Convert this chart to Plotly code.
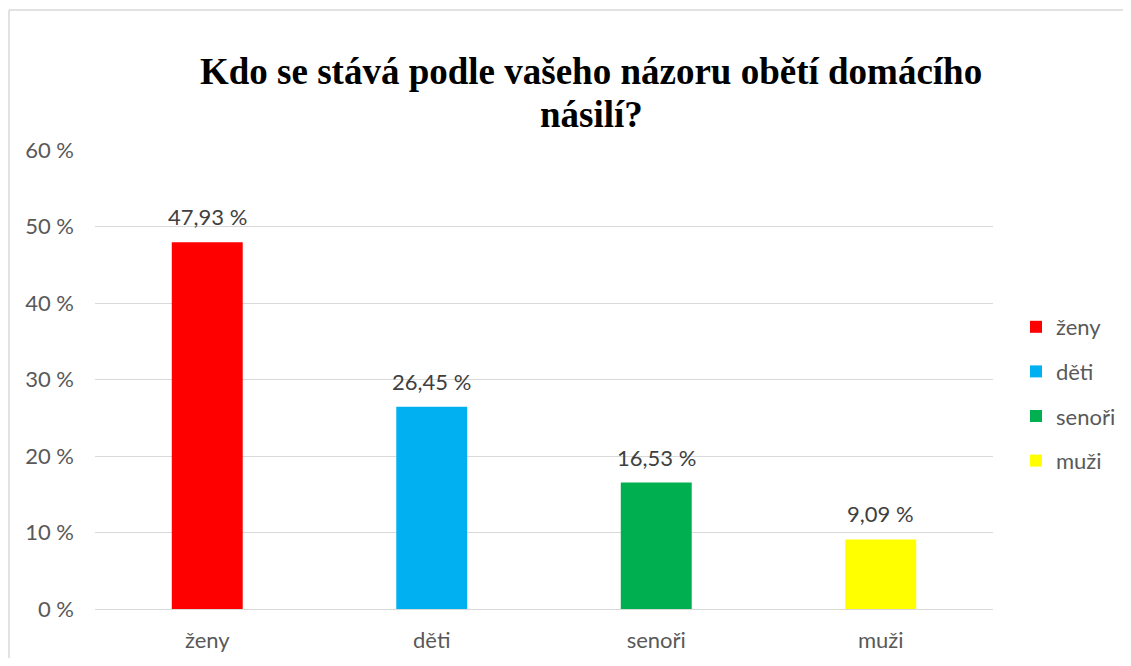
import plotly.graph_objects as go

categories = ["ženy", "děti", "senoři", "muži"]
values = [47.93, 26.45, 16.53, 9.09]
colors = ["#FF0000", "#00B0F0", "#00B050", "#FFFF00"]
tick_vals = [0, 10, 20, 30, 40, 50, 60]
tick_text = [f"{v} %" for v in tick_vals]
title_lines = ["Kdo se stává podle vašeho názoru obětí domácího", "násilí?"]

FONT = "Lato, 'Open Sans', sans-serif"
TFONT = "'Liberation Serif', 'Times New Roman', serif"
FS = 22

# page body has 8px margin; figure pixel = screen pixel - 8
W, H = 1115, 650
L, R, T, B = 87, 130, 142, 49
pw, ph = W - L - R, H - T - B

def px_x(p):
    return (p - L) / pw

def px_y(p):
    return (H - B - p) / ph

fig = go.Figure()
for cat, val, col in zip(categories, values, colors):
    fig.add_trace(go.Bar(
        x=[cat], y=[val], name=cat, legendgroup=cat,
        marker=dict(color=col, line=dict(width=0)),
        width=0.316,
        hoverinfo="x+y",
    ))
    fig.add_annotation(
        x=cat, y=val, xref="x", yref="y",
        text=f"{val:.2f} %".replace(".", ","),
        showarrow=False, yanchor="bottom", yshift=10,
        font=dict(family=FONT, size=FS, color="#404040"),
    )

for line, yc in zip(title_lines, [63, 107]):
    fig.add_annotation(
        x=px_x(583), y=px_y(yc), xref="paper", yref="paper",
        text=f"<b>{line}</b>", showarrow=False,
        xanchor="center", yanchor="middle",
        font=dict(family=TFONT, size=37, color="black"),
    )

fig.update_layout(
    width=W, height=H, autosize=False,
    margin=dict(l=L, r=R, t=T, b=B, autoexpand=False),
    paper_bgcolor="white", plot_bgcolor="white",
    barmode="overlay",
    font=dict(family=FONT, size=FS, color="#595959"),
    xaxis=dict(
        categoryorder="array", categoryarray=categories,
        showline=False, ticks="", tickfont=dict(size=FS, color="#595959"),
        ticklabelstandoff=16, automargin=False,
    ),
    yaxis=dict(
        range=[0, 60], tickvals=tick_vals, ticktext=tick_text,
        showgrid=True, gridcolor="#D9D9D9", gridwidth=1,
        zeroline=True, zerolinecolor="#D9D9D9", zerolinewidth=1,
        showline=False, ticks="", tickfont=dict(size=FS, color="#595959"),
        ticklabelstandoff=20, automargin=False,
    ),
    legend=dict(
        x=px_x(1008), xanchor="left",
        y=px_y(386), yanchor="middle",
        font=dict(family=FONT, size=FS, color="#595959"),
        tracegroupgap=13,
        itemwidth=30,
        bgcolor="rgba(0,0,0,0)",
    ),
    showlegend=True,
    shapes=[
        dict(type="line", xref="paper", yref="paper",
             x0=px_x(1), x1=px_x(1), y0=px_y(2), y1=px_y(H + 5),
             line=dict(color="#D9D9D9", width=1.5)),
        dict(type="line", xref="paper", yref="paper",
             x0=px_x(1), x1=px_x(W + 5), y0=px_y(2), y1=px_y(2),
             line=dict(color="#D9D9D9", width=1.5)),
    ],
)

fig.write_html("out.html")
